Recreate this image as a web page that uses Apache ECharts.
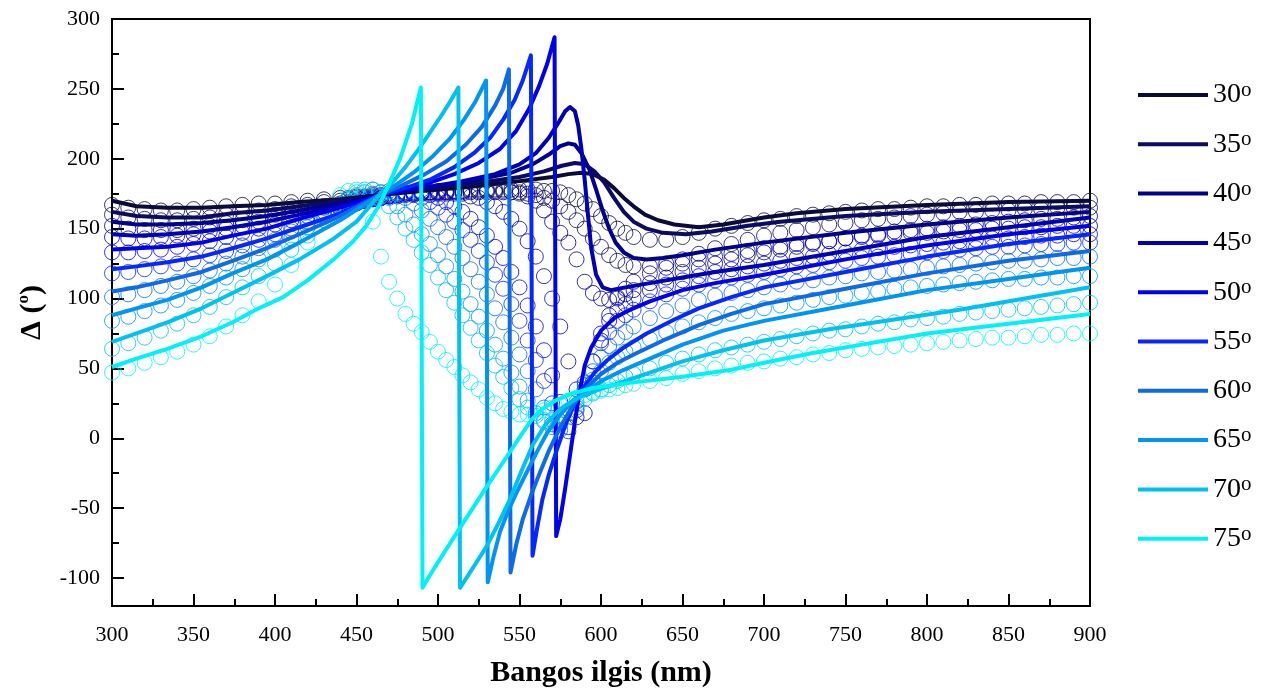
<!DOCTYPE html>
<html>
<head>
<meta charset="utf-8">
<title>Delta vs wavelength</title>
<script src="https://cdn.jsdelivr.net/npm/echarts@6/dist/echarts.min.js"></script>
<style>
html, body { margin: 0; padding: 0; background: #fff; }
#chart { width: 1272px; height: 693px; }
</style>
</head>
<body>
<div id="chart"></div>
<script>
// incidence angles (legend) and their colours
const angles = ['30', '35', '40', '45', '50', '55', '60', '65', '70', '75'];
const colors = ['#0b0b3b', '#0b0b62', '#00008c', '#0000b4', '#0000ea', '#0628ff', '#0d6be8', '#0095f0', '#00c2ef', '#00f2f5'];

// measured points (circles): wavelength in nm, denser around the resonance
const expWave = [300, 310, 320, 330, 340, 350, 360, 370, 380, 390, 400, 410, 420, 430,
  440, 445, 450, 455, 460, 465, 470, 475, 480, 485, 490, 495, 500, 505, 510, 515, 520, 525, 530, 535,
  540, 545, 550, 555, 560, 565, 570, 575, 580, 585, 590, 595, 600, 605, 610, 615, 620,
  630, 640, 650, 660, 670, 680, 690, 700, 710, 720, 730, 740, 750, 760, 770, 780, 790, 800,
  810, 820, 830, 840, 850, 860, 870, 880, 890, 900];

const exp30 = [167, 165, 164, 163, 163, 164, 165, 166, 167, 168, 168, 169, 170, 171,
  172, 172, 173, 173, 174, 174, 175, 175, 176, 176, 176, 176, 177, 177, 177, 177, 178, 178, 178, 178,
  178, 178, 178, 178, 178, 177, 177, 176, 174, 171, 168, 164, 159, 154, 150, 147, 144,
  142, 142, 144, 147, 150, 152, 154, 156, 157, 159, 160, 161, 162, 163, 164, 164, 165, 166,
  166, 167, 167, 168, 168, 168, 169, 169, 169, 170];
const exp35 = [160, 158, 157, 156, 156, 157, 158, 160, 162, 163, 164, 166, 167, 169,
  170, 171, 172, 172, 173, 173, 174, 174, 175, 175, 176, 176, 176, 176, 177, 177, 177, 177, 177, 177,
  177, 176, 176, 175, 174, 172, 170, 166, 162, 156, 150, 143, 137, 131, 127, 124, 123,
  123, 125, 128, 132, 136, 139, 142, 145, 147, 149, 151, 153, 154, 156, 157, 158, 159, 160,
  161, 162, 162, 163, 163, 164, 164, 165, 165, 165];
const exp40 = [152, 150, 149, 149, 149, 150, 152, 154, 156, 158, 160, 162, 164, 166,
  168, 169, 170, 171, 172, 172, 173, 173, 174, 174, 175, 175, 175, 175, 176, 176, 176, 176, 176, 176,
  176, 176, 175, 173, 170, 163, 155, 147, 140, 128, 112, 104, 100, 99, 101, 103, 106,
  111, 115, 119, 122, 125, 128, 131, 133, 135, 137, 139, 141, 143, 145, 146, 148, 149, 150,
  151, 152, 153, 154, 155, 156, 157, 157, 158, 159];
const exp45 = [144, 143, 143, 144, 145, 146, 148, 150, 152, 155, 157, 160, 162, 165,
  167, 168, 169, 170, 171, 172, 173, 174, 175, 175, 176, 176, 176, 176, 175, 175, 173, 172, 169, 166,
  162, 157, 150, 141, 130, 116, 100, 80, 55, 35, 18, 40, 70, 88, 100, 107, 112,
  118, 122, 125, 128, 130, 132, 134, 136, 137, 139, 140, 141, 143, 144, 145, 146, 147, 147,
  148, 149, 149, 150, 150, 151, 151, 152, 152, 152];
const exp50 = [133, 133, 134, 135, 137, 139, 141, 144, 147, 150, 153, 156, 159, 162,
  165, 167, 168, 170, 171, 172, 173, 174, 175, 175, 175, 174, 172, 169, 166, 162, 157, 151, 145, 137,
  129, 119, 108, 95, 80, 63, 45, 26, 8, 15, 35, 55, 75, 84, 92, 96, 100,
  106, 110, 113, 116, 119, 121, 123, 125, 127, 129, 130, 132, 133, 135, 136, 137, 138, 139,
  140, 141, 142, 143, 143, 144, 145, 145, 146, 146];
const exp55 = [118, 119, 121, 123, 125, 128, 131, 134, 138, 142, 146, 150, 155, 159,
  164, 166, 168, 170, 172, 173, 175, 175, 176, 175, 172, 169, 165, 160, 155, 149, 142, 134, 126, 117,
  107, 96, 84, 70, 56, 41, 25, 12, 5, 20, 40, 55, 68, 76, 84, 88, 92,
  98, 103, 107, 110, 113, 115, 117, 119, 121, 123, 124, 126, 127, 129, 130, 131, 132, 133,
  134, 135, 136, 137, 137, 138, 139, 139, 140, 140];
const exp60 = [101, 103, 106, 109, 112, 116, 120, 125, 130, 136, 142, 148, 154, 160,
  166, 169, 171, 173, 175, 176, 177, 175, 172, 168, 163, 157, 151, 144, 137, 129, 121, 112, 103, 93,
  83, 72, 60, 48, 35, 22, 10, 6, 8, 22, 38, 48, 58, 66, 72, 76, 80,
  86, 91, 95, 99, 102, 104, 106, 108, 110, 112, 113, 115, 116, 118, 119, 120, 121, 122,
  123, 124, 125, 126, 127, 127, 128, 129, 129, 130];
const exp65 = [84, 87, 91, 95, 99, 104, 109, 115, 121, 128, 135, 143, 151, 159,
  167, 171, 174, 176, 178, 176, 172, 166, 160, 153, 146, 139, 131, 123, 114, 105, 96, 87, 77, 67,
  57, 47, 37, 27, 18, 12, 8, 10, 18, 26, 35, 42, 48, 54, 58, 62, 65,
  71, 76, 80, 83, 86, 89, 91, 93, 95, 97, 99, 101, 102, 104, 105, 107, 108, 109,
  110, 111, 112, 113, 114, 114, 115, 115, 116, 116];
const exp70 = [64, 68, 72, 77, 82, 88, 94, 101, 108, 116, 125, 135, 145, 156,
  167, 172, 176, 178, 178, 173, 166, 158, 150, 142, 133, 124, 115, 106, 97, 88, 79, 70, 61, 52,
  44, 36, 28, 22, 16, 13, 13, 16, 20, 24, 28, 32, 35, 38, 41, 44, 46,
  50, 54, 57, 60, 63, 65, 67, 69, 71, 73, 75, 77, 78, 80, 82, 83, 85, 86,
  87, 89, 90, 91, 92, 93, 94, 95, 96, 97];
const exp75 = [47, 50, 54, 58, 62, 67, 73, 80, 88, 98, 110, 124, 140, 158,
  174, 177, 178, 176, 155, 130, 112, 100, 89, 82, 76, 69, 62, 56, 51, 45, 40, 35, 29, 25,
  21, 19, 17, 17, 18, 20, 22, 24, 27, 29, 31, 33, 34, 35, 36, 38, 39,
  41, 43, 46, 48, 50, 52, 54, 55, 57, 58, 60, 61, 63, 64, 65, 66, 67, 68,
  69, 70, 71, 72, 72, 73, 74, 74, 75, 75];

// model curves (solid lines): [wavelength nm, delta deg]
const line30 = [[300, 170], [315, 166], [334, 165], [355, 165], [374, 166], [395, 167], [415, 169], [440, 171], [464, 174],
  [490, 177], [520, 180], [550, 184], [570, 187], [580, 189], [588, 190], [595, 189], [602, 185], [608, 179], [614, 172],
  [620, 166], [627, 160], [635, 156], [645, 153], [660, 151], [675, 153], [690, 156], [700, 158], [720, 161], [750, 164],
  [800, 167], [850, 169], [900, 170]];
const line35 = [[300, 162], [315, 159], [334, 158], [355, 158], [374, 161], [395, 163], [415, 166], [440, 170], [464, 174],
  [490, 178], [520, 182], [550, 187], [565, 191], [576, 195], [584, 197], [590, 196], [596, 191], [602, 183], [608, 172],
  [614, 162], [620, 155], [628, 150], [638, 147], [652, 146], [668, 148], [690, 152], [710, 155], [750, 159], [800, 162],
  [850, 164], [900, 166]];
const line40 = [[300, 155], [315, 153], [334, 153], [355, 154], [374, 156], [395, 159], [415, 163], [440, 168], [464, 174],
  [490, 179], [520, 184], [545, 190], [558, 196], [568, 203], [575, 209], [580, 211], [584, 210], [588, 204], [593, 192],
  [597, 178], [601, 163], [605, 150], [609, 140], [614, 133], [620, 129], [628, 128], [638, 129], [650, 131], [670, 135],
  [700, 140], [750, 147], [800, 153], [850, 158], [900, 162]];
const line45 = [[300, 146], [315, 145], [334, 146], [355, 148], [374, 151], [395, 155], [415, 160], [440, 166], [464, 174],
  [490, 179], [515, 184], [535, 189], [550, 196], [560, 204], [568, 215], [574, 226], [578, 234], [581, 237], [584, 234],
  [586, 224], [588, 207], [590, 185], [592, 160], [594, 136], [597, 117], [601, 108], [606, 106], [615, 108], [630, 111],
  [650, 115], [670, 119], [700, 124], [750, 134], [800, 144], [850, 151], [900, 158]];
const line50 = [[300, 135], [315, 136], [334, 137], [355, 140], [374, 145], [395, 150], [415, 157], [440, 165], [464, 174],
  [480, 178], [495, 183], [510, 189], [525, 197], [538, 207], [548, 220], [556, 236], [562, 252], [567, 268], [571.5, 287],
  [572.5, -70], [575, -58], [578, -36], [581, -12], [584, 12], [587, 34], [590, 52], [594, 65], [600, 77], [608, 86],
  [618, 92], [630, 98], [650, 106], [670, 111], [700, 117], [750, 128], [800, 138], [850, 146], [900, 152]];
const line55 = [[300, 121], [315, 123], [334, 126], [355, 130], [374, 136], [395, 143], [415, 151], [440, 161], [464, 174],
  [480, 179], [495, 185], [510, 194], [522, 204], [532, 215], [540, 228], [547, 242], [552, 256], [557, 274],
  [558, -84], [561, -63], [564, -44], [568, -26], [573, -8], [578, 9], [583, 23], [589, 36], [596, 47], [604, 56],
  [614, 65], [628, 75], [645, 85], [660, 93], [680, 101], [700, 108], [750, 119], [800, 130], [850, 139], [900, 146]];
const line60 = [[300, 105], [315, 108], [334, 113], [355, 119], [374, 127], [395, 136], [415, 146], [440, 159], [464, 174],
  [478, 181], [492, 189], [505, 198], [517, 210], [527, 223], [535, 238], [540, 250], [543.5, 264], [544.5, -96],
  [548, -76], [552, -58], [557, -41], [562, -26], [568, -9], [575, 8], [583, 24], [591, 36], [600, 46], [610, 54],
  [622, 61], [640, 71], [660, 81], [680, 89], [700, 96], [750, 107], [800, 118], [850, 127], [900, 134]];
const line65 = [[300, 88], [315, 93], [334, 99], [355, 108], [374, 118], [395, 128], [415, 140], [440, 156], [464, 174],
  [475, 182], [486, 191], [497, 202], [507, 214], [516, 228], [523, 241], [529.5, 256], [530.5, -103], [534, -85],
  [538, -67], [543, -52], [549, -37], [555, -23], [561, -9], [567, 4], [575, 17], [583, 27], [592, 35], [602, 42],
  [614, 49], [630, 57], [650, 67], [675, 77], [700, 84], [750, 95], [800, 106], [850, 114], [900, 122]];
const line70 = [[300, 69], [315, 75], [334, 83], [355, 93], [374, 104], [395, 116], [415, 128], [435, 142], [450, 155],
  [464, 174], [472, 183], [480, 194], [487, 205], [494, 217], [501, 229], [507, 240], [512.5, 251], [513.5, -107],
  [518, -99], [524, -88], [530, -77], [537, -61], [544, -44], [551, -24], [558, -5], [566, 10], [575, 21], [586, 29],
  [599, 35], [615, 41], [630, 47], [650, 55], [675, 63], [700, 70], [740, 78], [780, 85], [820, 92], [860, 100],
  [900, 108]];
const line75 = [[300, 51], [315, 57], [334, 64], [355, 73], [374, 83], [390, 93], [405, 101], [420, 113], [436, 128],
  [448, 141], [456, 152], [464, 167], [470, 182], [477, 201], [484, 225], [489.5, 251], [490.5, -107], [495, -98],
  [502, -85], [513, -65], [528, -38], [544, -10], [552, 4], [558, 14], [564, 21], [572, 27], [582, 32], [595, 36],
  [620, 40], [650, 44], [680, 49], [700, 54], [730, 61], [760, 67], [800, 75], [850, 82], [900, 89]];

const yMajor = [-100, -50, 0, 50, 100, 150, 200, 250, 300];
const yMinor = [-75, -25, 25, 75, 125, 175, 225, 275];

const expSets = [exp30, exp35, exp40, exp45, exp50, exp55, exp60, exp65, exp70, exp75];
const lineSets = [line30, line35, line40, line45, line50, line55, line60, line65, line70, line75];

const serif = 'Liberation Serif, Times New Roman, serif';
const chart = echarts.init(document.getElementById('chart'));

const series = [];
angles.forEach((a, i) => {
  series.push({
    name: a + ' exp',
    type: 'scatter',
    data: expWave.map((w, k) => [w, expSets[i][k]]),
    symbol: 'circle',
    symbolSize: 15,
    silent: true,
    z: 1,
    itemStyle: { color: 'rgba(0,0,0,0)', borderColor: colors[i], borderWidth: 1, opacity: 0.8 }
  });
});
angles.forEach((a, i) => {
  series.push({
    name: a,
    type: 'line',
    data: lineSets[i],
    symbol: 'none',
    showSymbol: false,
    smooth: false,
    z: 3,
    lineStyle: { color: colors[i], width: 4, join: 'round' },
    itemStyle: { color: colors[i] }
  });
});

const tickLine = { color: '#000', width: 2 };

chart.setOption({
  animation: false,
  backgroundColor: '#fff',
  grid: { left: 112, right: 182, top: 19, bottom: 87, show: true, borderColor: '#000', borderWidth: 2 },
  legend: {
    data: angles,
    orient: 'vertical',
    left: 1133,
    top: 75,
    itemWidth: 70,
    itemHeight: 4,
    itemGap: 20.3,
    icon: 'rect',
    selectedMode: false,
    formatter: name => '{n|' + name + '}{s|o}',
    textStyle: {
      color: '#000',
      rich: {
        n: { fontFamily: serif, fontSize: 28, lineHeight: 30, color: '#000' },
        s: { fontFamily: serif, fontSize: 21, lineHeight: 21, verticalAlign: 'top', color: '#000' }
      }
    }
  },
  xAxis: {
    type: 'value',
    min: 300,
    max: 900,
    interval: 50,
    name: 'Bangos ilgis (nm)',
    nameLocation: 'middle',
    nameGap: 52,
    nameTextStyle: { fontFamily: serif, fontWeight: 'bold', fontSize: 30, color: '#000' },
    axisLine: { show: true, onZero: false, lineStyle: tickLine },
    axisTick: { inside: true, length: 12, lineStyle: tickLine },
    minorTick: { show: true, splitNumber: 2, length: 7, lineStyle: tickLine },
    axisLabel: { fontFamily: serif, fontSize: 22, color: '#000', margin: 18 },
    splitLine: { show: false }
  },
  yAxis: [{
    type: 'value',
    min: -120,
    max: 300,
    name: '{d|Δ (}{s|o}{d|)}',
    nameLocation: 'middle',
    nameGap: 63,
    nameTextStyle: {
      rich: {
        d: { fontFamily: serif, fontWeight: 'bold', fontSize: 30, lineHeight: 34, color: '#000' },
        s: { fontFamily: serif, fontWeight: 'bold', fontSize: 17, lineHeight: 17, verticalAlign: 'top', color: '#000' }
      }
    },
    axisLine: { show: true, onZero: false, lineStyle: tickLine },
    axisTick: { inside: true, length: 12, lineStyle: tickLine, customValues: yMajor },
    axisLabel: { fontFamily: serif, fontSize: 22, color: '#000', margin: 12, customValues: yMajor },
    splitLine: { show: false }
  }, {
    type: 'value',
    min: -120,
    max: 300,
    position: 'left',
    axisLine: { show: false, onZero: false },
    axisTick: { inside: true, length: 7, lineStyle: tickLine, customValues: yMinor },
    axisLabel: { show: false },
    splitLine: { show: false }
  }],
  series: series
});
</script>
</body>
</html>
